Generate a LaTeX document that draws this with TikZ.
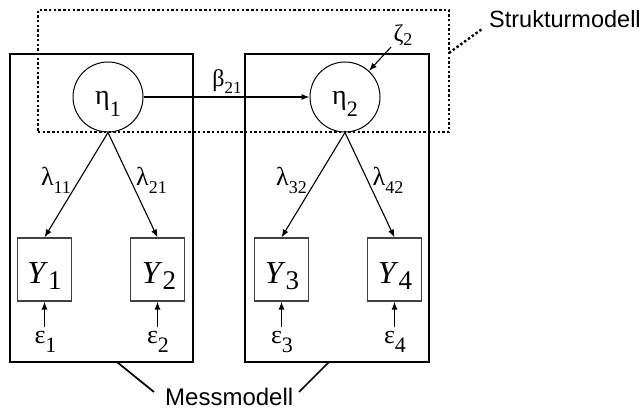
\documentclass[tikz,border=0pt]{standalone}
\usepackage{fontspec}
\setmainfont{Liberation Serif}
\newfontfamily\labsans{Liberation Sans}
\usetikzlibrary{arrows.meta}
\newcommand\symb[5]{{\fontsize{#1pt}{#1pt}\selectfont #4\raisebox{-#3pt}{\fontsize{#2pt}{#2pt}\selectfont #5}}}
\begin{document}
\begin{tikzpicture}[x=1pt,y=-1pt,
 lab/.style={inner sep=0pt, anchor=base},
 frame/.style={draw, line width=2pt, inner sep=0pt},
 dotframe/.style={draw, line width=2.4pt, dash pattern=on 2.4pt off 2.3pt, inner sep=0pt},
 latent/.style={draw, circle, line width=1pt, minimum size=70pt, inner sep=0pt},
 manifest/.style={draw=black!75, line width=1.1pt, minimum width=54pt, minimum height=63pt, inner sep=0pt},
 arr/.style={-{Latex[length=8pt,width=6pt]}, line width=1.1pt},
 lead/.style={line width=1.7pt},
 dotlead/.style={line width=2.4pt, dash pattern=on 2.4pt off 2.3pt},
 modelname/.style={inner sep=0pt, anchor=base west, font=\labsans\fontsize{24pt}{24pt}\selectfont}]
\useasboundingbox (0,0) rectangle (644,409);

% frames
\node[dotframe, minimum width=411pt, minimum height=122pt] (struct) at (243.5,71) {};
\node[frame, minimum width=183pt, minimum height=308pt] (mL) at (101.5,208) {};
\node[frame, minimum width=184pt, minimum height=308pt] (mR) at (337,208) {};

% latent variables
\node[latent] (e1) at (108,97) {};
\node[latent] (e2) at (345,97) {};
\node[lab] (te1) at (108,105) {\symb{28}{22}{11}{η}{1}};
\node[lab] (te2) at (345,105) {\symb{28}{22}{11}{η}{2}};

% manifest variables
\node[manifest] (y1) at (44.5,269.5) {};
\node[manifest] (y2) at (157.5,269.5) {};
\node[manifest] (y3) at (281.5,269.5) {};
\node[manifest] (y4) at (394.5,269.5) {};
\node[lab] (ty1) at (44.5,283) {\symb{32}{27}{6}{\textit{Y}}{1}};
\node[lab] (ty2) at (159,283) {\symb{32}{27}{6}{\textit{Y}}{2}};
\node[lab] (ty3) at (282,283) {\symb{32}{27}{6}{\textit{Y}}{3}};
\node[lab] (ty4) at (395,283) {\symb{32}{27}{6}{\textit{Y}}{4}};

% structural path
\draw[arr] (e1) -- (e2);
\node[lab] (tb) at (227,87) {\symb{24}{17}{6}{β}{21}};
\coordinate (zs) at (391,47);
\draw[arr] (zs) -- (e2);
\node[lab] (tz) at (403,42) {\symb{24}{18}{3.5}{ζ}{2}};

% loadings
\draw[arr] (e1.south) -- (y1.north);
\draw[arr] (e1.south) -- (y2.north);
\draw[arr] (e2.south) -- (y3.north);
\draw[arr] (e2.south) -- (y4.north);
\node[lab] (tl11) at (56,185) {\symb{26}{18}{8}{λ}{11}};
\node[lab] (tl21) at (151.5,185) {\symb{26}{18}{8}{λ}{21}};
\node[lab] (tl32) at (291.5,185) {\symb{26}{18}{8}{λ}{32}};
\node[lab] (tl42) at (388,185) {\symb{26}{18}{8}{λ}{42}};

% errors
\coordinate (ep1) at (44.5,327);
\coordinate (ep2) at (157.5,327);
\coordinate (ep3) at (281.5,327);
\coordinate (ep4) at (394.5,327);
\draw[arr] (ep1) -- (y1.south);
\draw[arr] (ep2) -- (y2.south);
\draw[arr] (ep3) -- (y3.south);
\draw[arr] (ep4) -- (y4.south);
\node[lab] (tep1) at (45.5,343) {\symb{26}{22}{9}{ε}{1}};
\node[lab] (tep2) at (158,343) {\symb{26}{22}{9}{ε}{2}};
\node[lab] (tep3) at (282,343) {\symb{26}{22}{9}{ε}{3}};
\node[lab] (tep4) at (395,343) {\symb{26}{22}{9}{ε}{4}};

% model names
\node[modelname] (tstruct) at (489,28) {\fontsize{23.5pt}{23.5pt}\selectfont Strukturmodell};
\coordinate (sA) at (449,53);
\coordinate (sB) at (482,29);
\draw[dotlead] (sA) -- (sB);
\node[modelname] (tmess) at (165,405) {Messmodell};
\coordinate (mLa) at (117,362);
\coordinate (mLb) at (154,392);
\coordinate (mRa) at (329,362);
\coordinate (mRb) at (299,392);
\draw[lead] (mLa) -- (mLb);
\draw[lead] (mRa) -- (mRb);
\end{tikzpicture}
\end{document}
